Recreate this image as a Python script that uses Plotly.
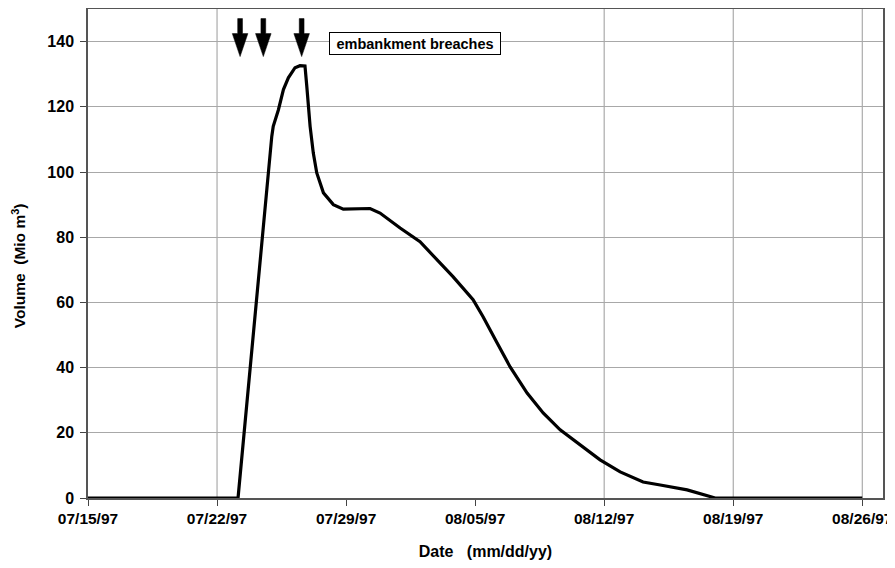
import plotly.graph_objects as go

# ---- data ----
dates = [
    "1997-07-15 00:00", "1997-07-23 03:20", "1997-07-24 23:15", "1997-07-25 01:10",
    "1997-07-25 07:55", "1997-07-25 14:25", "1997-07-25 20:50", "1997-07-26 05:30",
    "1997-07-26 12:00", "1997-07-26 18:30", "1997-07-26 20:50", "1997-07-27 01:10",
    "1997-07-27 05:20", "1997-07-27 09:50", "1997-07-27 18:30", "1997-07-28 07:25",
    "1997-07-28 20:25", "1997-07-30 07:10", "1997-07-30 20:10", "1997-07-31 22:20",
    "1997-08-02 00:15", "1997-08-03 19:10", "1997-08-04 21:20", "1997-08-05 10:20",
    "1997-08-06 04:30", "1997-08-06 21:35", "1997-08-07 19:40", "1997-08-08 16:35",
    "1997-08-09 14:40", "1997-08-10 12:45", "1997-08-11 18:40", "1997-08-12 20:50",
    "1997-08-14 02:40", "1997-08-15 01:00", "1997-08-16 12:00", "1997-08-18 00:30",
    "1997-08-26 00:00",
]
volume = [
    0, 0, 110.9, 114.0,
    119.1, 125.3, 128.9, 132.0,
    132.6, 132.5, 126.3, 114.0,
    105.8, 99.7, 93.6, 90.0,
    88.6, 88.8, 87.4, 82.8,
    78.6, 67.9, 60.8, 55.6,
    47.6, 40.2, 32.2, 26.1,
    20.9, 16.9, 11.7, 8.0,
    4.9, 4.0, 2.5, 0,
    0,
]

tick_dates = ["1997-07-15", "1997-07-22", "1997-07-29", "1997-08-05",
              "1997-08-12", "1997-08-19", "1997-08-26"]
tick_labels = ["07/15/97", "07/22/97", "07/29/97", "08/05/97",
               "08/12/97", "08/19/97", "08/26/97"]
vgrid_dates = ["1997-07-22", "1997-08-12", "1997-08-19", "1997-08-26"]
y_ticks = [0, 20, 40, 60, 80, 100, 120, 140]

breach_dates = ["1997-07-23 06:00", "1997-07-24 12:15", "1997-07-26 14:10"]
breach_tip_value = 135.4
label_text = "embankment breaches"
label_date = "1997-07-28 02:00"
label_value = 139.5

x_title = "Date&nbsp;&nbsp;&nbsp;(mm/dd/yy)"
y_title = "Volume&nbsp;&nbsp;(Mio m<sup>3</sup>)"

x_range = ["1997-07-15 00:00", "1997-08-27 03:00"]
y_range = [0, 150]

FONT = "Liberation Sans, Arial, sans-serif"

fig = go.Figure()
fig.add_trace(go.Scatter(
    x=dates, y=volume, mode="lines",
    line=dict(color="black", width=3.2),
    showlegend=False, hoverinfo="skip",
))

shapes = []
for d in vgrid_dates:
    shapes.append(dict(type="line", xref="x", yref="paper", x0=d, x1=d, y0=0, y1=1,
                       line=dict(color="#9a9a9a", width=1), layer="below"))

# arrow glyphs (pixel-sized, anchored at the tip)
arrow_path = "M0,0 L-7.8,23 L-2.4,23 L-2.4,38 L2.4,38 L2.4,23 L7.8,23 Z"
for d in breach_dates:
    shapes.append(dict(type="path", xref="x", yref="y",
                       xsizemode="pixel", ysizemode="pixel",
                       xanchor=d, yanchor=breach_tip_value,
                       path=arrow_path, fillcolor="black",
                       line=dict(color="black", width=0.5), layer="above"))

annotations = [
    dict(
        x=label_date, y=label_value, xref="x", yref="y",
        text=label_text, showarrow=False, xanchor="left", yanchor="middle",
        width=164, height=15,
        font=dict(family=FONT, size=14.5, color="black", weight="bold"),
        bgcolor="white", bordercolor="black", borderwidth=1, borderpad=3,
    ),
    # y-axis title (placed as in the reference: slightly below the plot centre)
    dict(
        x=0, y=0.474, xref="paper", yref="paper", xshift=-69,
        text=y_title, textangle=-90, showarrow=False,
        xanchor="center", yanchor="middle",
        font=dict(family=FONT, size=15.5, color="black", weight="bold"),
    ),
]

# page body has an 8px margin; plot area placed to match the reference window
fig.update_layout(
    width=895, height=552,
    margin=dict(l=80, r=20, t=1, b=62, autoexpand=False),
    paper_bgcolor="white", plot_bgcolor="white",
    font=dict(family=FONT, color="black", size=16, weight="bold"),
    shapes=shapes,
    annotations=annotations,
    xaxis=dict(
        type="date", range=x_range, automargin=False,
        tickmode="array", tickvals=tick_dates, ticktext=tick_labels,
        showgrid=False, zeroline=False,
        ticks="outside", ticklen=6, tickcolor="#444", tickwidth=1,
        showline=True, linecolor="#555", linewidth=1.5, mirror=True,
        tickfont=dict(family=FONT, size=15.5, color="black", weight="bold"),
        title=dict(text=x_title, standoff=24,
                   font=dict(family=FONT, size=16, color="black", weight="bold")),
    ),
    yaxis=dict(
        range=y_range, tickmode="array", tickvals=y_ticks, automargin=False,
        showgrid=True, gridcolor="#a8a8a8", gridwidth=1, zeroline=False,
        ticks="outside", ticklen=6, tickcolor="#444", tickwidth=1,
        ticklabelstandoff=3,
        showline=True, linecolor="#555", linewidth=1.5, mirror=True,
        tickfont=dict(family=FONT, size=16, color="black", weight="bold"),
    ),
)

fig.write_html("out.html")
